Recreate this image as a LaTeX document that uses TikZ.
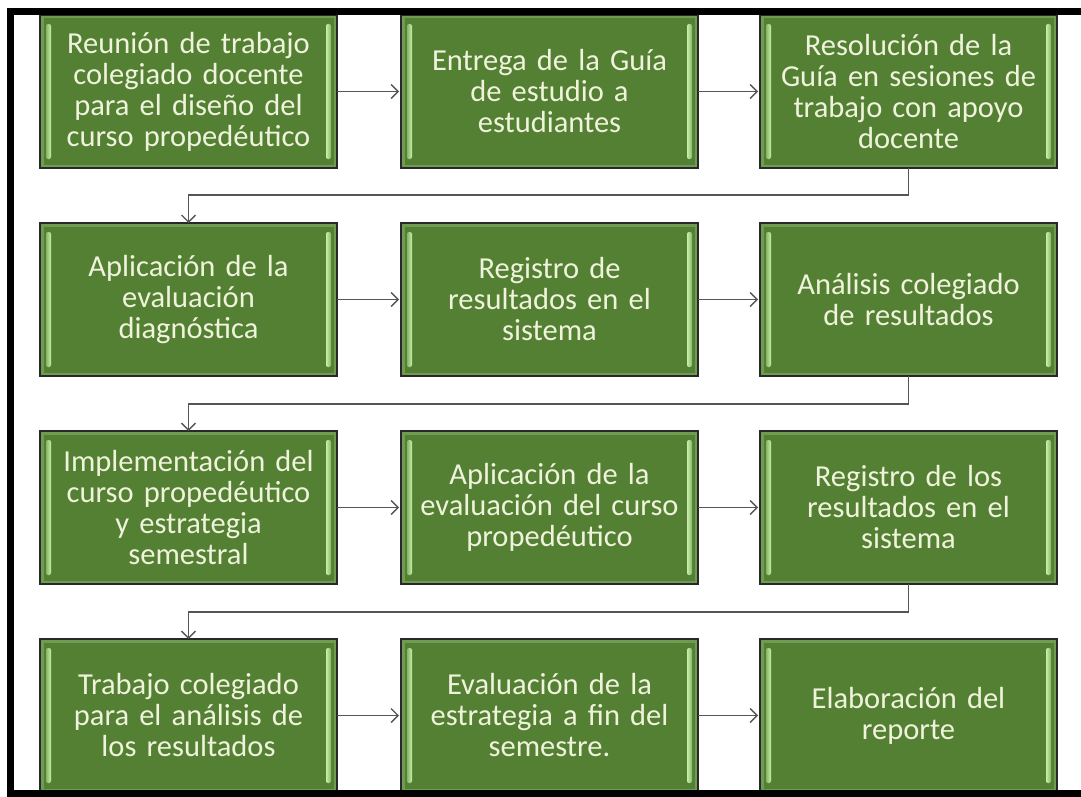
\documentclass[tikz,border=0pt]{standalone}
\usepackage{fontspec}
\setmainfont{Carlito}
\newfontfamily\boxfont{Carlito}
\usetikzlibrary{arrows.meta}
\definecolor{boxgreen}{RGB}{84,128,52}
\definecolor{boxrim}{RGB}{112,155,82}
\definecolor{boxline}{RGB}{40,40,40}
\definecolor{striplight}{RGB}{200,238,170}
\definecolor{stripmid}{RGB}{135,182,102}
\definecolor{boxtext}{RGB}{240,243,220}
\definecolor{conngray}{RGB}{85,85,85}
\tikzset{
  stepbox/.style={rectangle, draw=boxline, line width=1.5pt, fill=boxgreen,
    minimum width=297pt, minimum height=153pt, inner sep=0pt, outer sep=0pt,
    text width=290pt, align=center, text=boxtext,
    font=\boxfont\fontsize{30.5pt}{31pt}\selectfont,
    path picture={
      \draw[boxrim, line width=7pt] (path picture bounding box.north west) rectangle (path picture bounding box.south east);
      \shade[left color=stripmid, right color=striplight, rounded corners=2pt]
        ([xshift=6pt,yshift=-9pt]path picture bounding box.north west) rectangle ([xshift=11pt,yshift=9pt]path picture bounding box.south west);
      \shade[left color=striplight, right color=stripmid, rounded corners=2pt]
        ([xshift=-11pt,yshift=-9pt]path picture bounding box.north east) rectangle ([xshift=-6pt,yshift=9pt]path picture bounding box.south east);
    }},
  conn/.style={draw=conngray, line width=1.3pt, -{Straight Barb[length=7pt,width=14pt,line width=1.3pt]}},
  frameline/.style={fill=black}
}
\begin{document}
\begin{tikzpicture}[x=1pt,y=-1pt]
\useasboundingbox (0,0) rectangle (1081,797);
\fill[white] (0,0) rectangle (1081,797);

% row 1
\node[stepbox] (b1) at (188.5,91.5) {Reunión de trabajo\\colegiado docente\\para el diseño del\\curso propedéutico};
\node[stepbox] (b2) at (549.5,91.5) {Entrega de la Guía\\de estudio a\\estudiantes};
\node[stepbox] (b3) at (908.5,91.5) {Resolución de la\\Guía en sesiones de\\trabajo con apoyo\\docente};
% row 2
\node[stepbox] (b4) at (188.5,299.5) {Aplicación de la\\evaluación\\diagnóstica};
\node[stepbox] (b5) at (549.5,299.5) {Registro de\\resultados en el\\sistema};
\node[stepbox] (b6) at (908.5,299.5) {Análisis colegiado\\de resultados};
% row 3
\node[stepbox] (b7) at (188.5,507.5) {Implementación del\\curso propedéutico\\y estrategia\\semestral};
\node[stepbox] (b8) at (549.5,507.5) {Aplicación de la\\evaluación del curso\\propedéutico};
\node[stepbox] (b9) at (908.5,507.5) {Registro de los\\resultados en el\\sistema};
% row 4
\node[stepbox] (b10) at (188.5,715.5) {Trabajo colegiado\\para el análisis de\\los resultados};
\node[stepbox] (b11) at (549.5,715.5) {Evaluación de la\\estrategia a fin del\\semestre.};
\node[stepbox] (b12) at (908.5,715.5) {Elaboración del\\reporte};

% connectors
\draw[conn, shorten >=2pt] (b1.east) -- (b2.west);
\draw[conn, shorten >=2pt] (b2.east) -- (b3.west);
\draw[conn] (b3.south) -- ++(0,27) -| (b4.north);
\draw[conn, shorten >=2pt] (b4.east) -- (b5.west);
\draw[conn, shorten >=2pt] (b5.east) -- (b6.west);
\draw[conn] (b6.south) -- ++(0,28) -| (b7.north);
\draw[conn, shorten >=2pt] (b7.east) -- (b8.west);
\draw[conn, shorten >=2pt] (b8.east) -- (b9.west);
\draw[conn] (b9.south) -- ++(0,28) -| (b10.north);
\draw[conn, shorten >=2pt] (b10.east) -- (b11.west);
\draw[conn, shorten >=2pt] (b11.east) -- (b12.west);

% frame
\fill[frameline] (7,8) rectangle (1081,15);
\fill[frameline] (7,8) rectangle (14,797);
\fill[frameline] (7,790) rectangle (1081,797);
\end{tikzpicture}
\end{document}
